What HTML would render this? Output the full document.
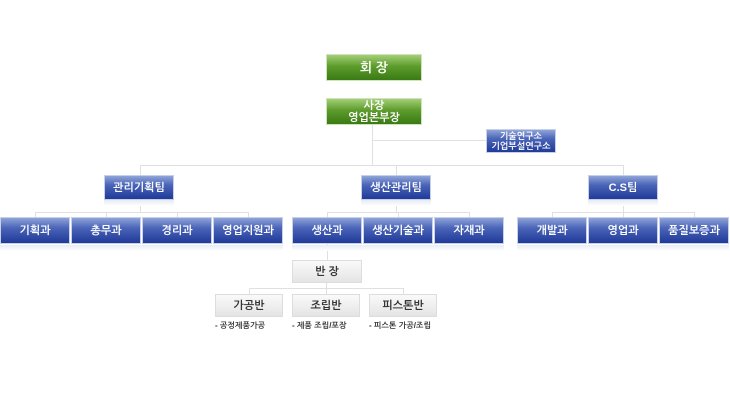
<!DOCTYPE html><html><head><meta charset="utf-8"><style>
body{margin:0;width:730px;height:403px;background:#fff;position:relative;overflow:hidden;font-family:"Liberation Sans","NanumGothic","Noto Sans CJK KR",sans-serif}
.b{position:absolute;color:#fff;font-size:11px;font-weight:bold;display:flex;align-items:center;justify-content:center;text-align:center;line-height:12px;box-sizing:border-box}
.bl{background:linear-gradient(#8fa4d8 0%,#4a64b8 40%,#1f3a98 100%);border:1px solid #c8d0e8;height:25px;width:70px}
.g{background:linear-gradient(#a4cf78 0%,#5d9c2c 45%,#3a7a14 100%);border:1px solid #cfe3bc;width:96px;height:27px}
.gr{background:linear-gradient(#fafafa,#e4e4e4);border:1px solid #ddd;color:#333;height:23px;width:68px;font-size:11px}
.l{position:absolute;background:#e0e0e0}
.r{position:absolute;height:6px;background:linear-gradient(#e6ebf5,#fff)}
.t{position:absolute;font-size:8px;color:#333;font-weight:bold}
</style></head><body>
<div class="l" style="left:372px;top:125px;width:1px;height:40px"></div>
<div class="l" style="left:372px;top:140px;width:114px;height:1px"></div>
<div class="l" style="left:140px;top:165px;width:484px;height:1px"></div>
<div class="l" style="left:140px;top:165px;width:1px;height:10px"></div>
<div class="l" style="left:396px;top:165px;width:1px;height:10px"></div>
<div class="l" style="left:623px;top:165px;width:1px;height:10px"></div>
<div class="l" style="left:35px;top:212px;width:214px;height:1px"></div>
<div class="l" style="left:327px;top:212px;width:142px;height:1px"></div>
<div class="l" style="left:552px;top:212px;width:142px;height:1px"></div>
<div class="l" style="left:140px;top:198px;width:1px;height:14px"></div>
<div class="l" style="left:396px;top:198px;width:1px;height:14px"></div>
<div class="l" style="left:623px;top:198px;width:1px;height:14px"></div>
<div class="l" style="left:35px;top:212px;width:1px;height:5px"></div><div class="l" style="left:106px;top:212px;width:1px;height:5px"></div><div class="l" style="left:177px;top:212px;width:1px;height:5px"></div><div class="l" style="left:248px;top:212px;width:1px;height:5px"></div>
<div class="l" style="left:327px;top:212px;width:1px;height:5px"></div><div class="l" style="left:398px;top:212px;width:1px;height:5px"></div><div class="l" style="left:469px;top:212px;width:1px;height:5px"></div>
<div class="l" style="left:552px;top:212px;width:1px;height:5px"></div><div class="l" style="left:623px;top:212px;width:1px;height:5px"></div><div class="l" style="left:694px;top:212px;width:1px;height:5px"></div>
<div class="l" style="left:327px;top:243px;width:1px;height:17px"></div>
<div class="l" style="left:249px;top:288px;width:155px;height:1px"></div>
<div class="l" style="left:249px;top:288px;width:1px;height:6px"></div><div class="l" style="left:326px;top:283px;width:1px;height:11px"></div><div class="l" style="left:403px;top:288px;width:1px;height:6px"></div>

<div class="b g" style="left:326px;top:54px;font-size:13px">회 장</div>
<div class="b g" style="left:326px;top:98px">사장<br>영업본부장</div>
<div class="b bl" style="left:486px;top:129px;height:24px;font-size:9px;line-height:10px">기술연구소<br>기업부설연구소</div>
<div class="b bl" style="left:104px;top:175px">관리기획팀</div>
<div class="b bl" style="left:361px;top:175px">생산관리팀</div>
<div class="b bl" style="left:588px;top:175px">C.S팀</div>
<div class="r" style="left:104px;top:200px;width:70px"></div><div class="r" style="left:361px;top:200px;width:70px"></div><div class="r" style="left:588px;top:200px;width:70px"></div>

<div class="b bl" style="left:0;top:217px;height:27px">기획과</div>
<div class="b bl" style="left:71px;top:217px;height:27px">총무과</div>
<div class="b bl" style="left:142px;top:217px;height:27px">경리과</div>
<div class="b bl" style="left:213px;top:217px;height:27px">영업지원과</div>
<div class="b bl" style="left:292px;top:217px;height:27px">생산과</div>
<div class="b bl" style="left:363px;top:217px;height:27px">생산기술과</div>
<div class="b bl" style="left:434px;top:217px;height:27px">자재과</div>
<div class="b bl" style="left:517px;top:217px;height:27px">개발과</div>
<div class="b bl" style="left:588px;top:217px;height:27px">영업과</div>
<div class="b bl" style="left:659px;top:217px;height:27px">품질보증과</div>
<div class="r" style="left:0;top:245px;width:283px"></div><div class="r" style="left:292px;top:245px;width:212px"></div><div class="r" style="left:517px;top:245px;width:212px"></div>

<div class="b gr" style="left:292px;top:260px;width:70px">반 장</div>
<div class="b gr" style="left:215px;top:294px">가공반</div>
<div class="b gr" style="left:292px;top:294px">조립반</div>
<div class="b gr" style="left:369px;top:294px">피스톤반</div>
<div class="t" style="left:215px;top:321px">- 공정제품가공</div>
<div class="t" style="left:292px;top:321px">- 제품 조립/포장</div>
<div class="t" style="left:369px;top:321px">- 피스톤 가공/조립</div>
</body></html>
